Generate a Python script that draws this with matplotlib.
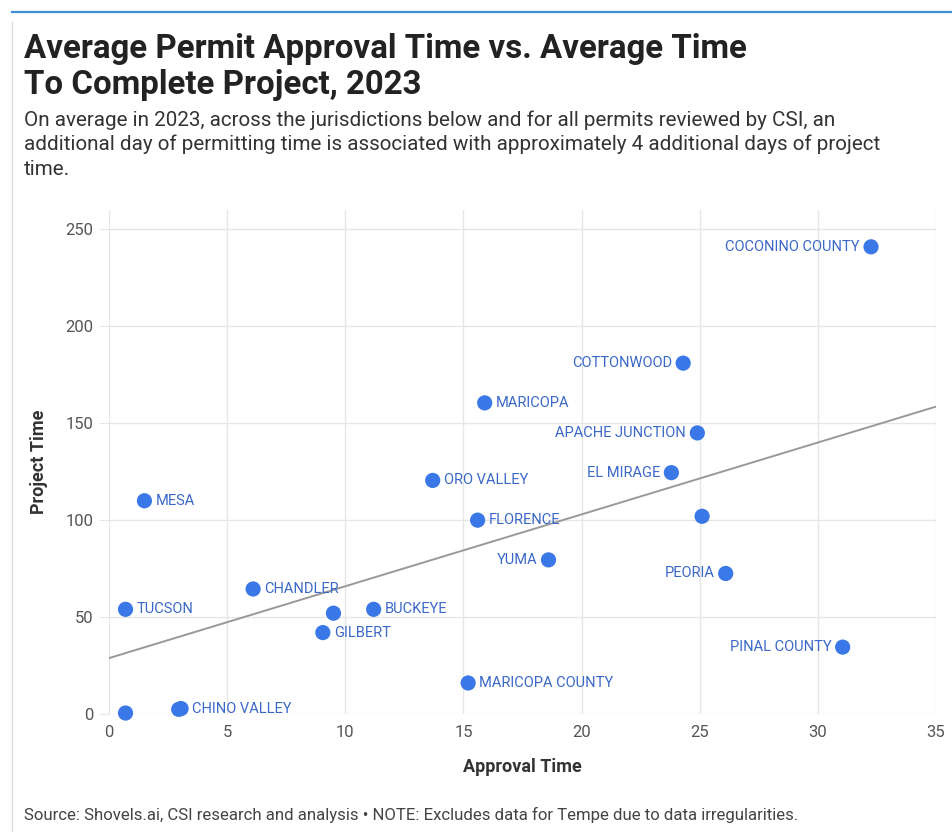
import numpy as np
import matplotlib.pyplot as plt
from matplotlib.lines import Line2D

plt.rcParams['font.family'] = ['Roboto', 'DejaVu Sans']

# data
names = ['COCONINO COUNTY', 'COTTONWOOD', 'MARICOPA', 'APACHE JUNCTION', 'EL MIRAGE',
         'ORO VALLEY', 'MESA', 'FLORENCE', '', 'YUMA', 'PEORIA', 'CHANDLER', 'TUCSON',
         '', 'BUCKEYE', 'GILBERT', 'PINAL COUNTY', 'MARICOPA COUNTY', 'CHINO VALLEY', '', '']
approval = [32.25, 24.3, 15.9, 24.9, 23.8, 13.7, 1.5, 15.6, 25.1, 18.6, 26.1, 6.1, 0.7,
            9.5, 11.2, 9.05, 31.05, 15.2, 3.05, 2.95, 0.7]
project = [241, 181, 160.5, 145, 124.5, 120.5, 110, 100, 102, 79.5, 72.5, 64.5, 54,
           52, 54, 42, 34.5, 16, 2.8, 2.4, 0.5]
label_left = ['COCONINO COUNTY', 'COTTONWOOD', 'APACHE JUNCTION', 'EL MIRAGE', 'YUMA',
              'PEORIA', 'PINAL COUNTY']

x_ticks = [0, 5, 10, 15, 20, 25, 30, 35]
y_ticks = [0, 50, 100, 150, 200, 250]

W, H = 953, 832
fig = plt.figure(figsize=(W / 100, H / 100), dpi=100)
ax = fig.add_axes([109 / W, 1 - 714 / H, (936 - 109) / W, (714 - 210) / H])

grid_c = '#e6e6e6'
ax.set_xlim(0, 35)
ax.set_ylim(0, 260)
ax.set_xticks(x_ticks)
ax.set_yticks(y_ticks)
ax.grid(True, color=grid_c, lw=1)
ax.set_axisbelow(True)
for s in ax.spines.values():
    s.set_visible(False)
ax.tick_params(axis='y', length=7, color=grid_c, labelsize=12, labelcolor='#555555', pad=4)
ax.tick_params(axis='x', length=0, labelsize=12, labelcolor='#555555', pad=8)

# trend line (least squares over all points)
m, b = np.polyfit(approval, project, 1)
xs = np.array([0, 35])
ax.plot(xs, m * xs + b, color='#999999', lw=1.4, zorder=2)

ax.scatter(approval, project, s=120, color='#3b78e7', edgecolors='none', zorder=3, clip_on=False)

for n, xv, yv in zip(names, approval, project):
    if not n:
        continue
    if n in label_left:
        ax.annotate(n, (xv, yv), xytext=(-8, 0), textcoords='offset points',
                    ha='right', va='center', fontsize=10.5, color='#3a68c8', zorder=4)
    else:
        ax.annotate(n, (xv, yv), xytext=(8, 0), textcoords='offset points',
                    ha='left', va='center', fontsize=10.5, color='#3a68c8', zorder=4)

ax.set_xlabel('Approval Time', fontsize=13, fontweight='bold', color='#333333', labelpad=13)
ax.set_ylabel('Project Time', fontsize=13, fontweight='bold', color='#333333', labelpad=13)

# titles and notes
fig.text(24 / W, 1 - 58 / H, 'Average Permit Approval Time vs. Average Time',
         fontsize=23.8, fontweight='bold', color='#222222', va='baseline')
fig.text(24 / W, 1 - 94 / H, 'To Complete Project, 2023',
         fontsize=23.8, fontweight='bold', color='#222222', va='baseline')
sub = ['On average in 2023, across the jurisdictions below and for all permits reviewed by CSI, an',
       'additional day of permitting time is associated with approximately 4 additional days of project',
       'time.']
for i, line in enumerate(sub):
    fig.text(24 / W, 1 - (126 + 24.5 * i) / H, line, fontsize=14.9, color='#333333', va='baseline')
fig.text(24 / W, 1 - 820 / H,
         'Source: Shovels.ai, CSI research and analysis \u2022 NOTE: Excludes data for Tempe due to data irregularities.',
         fontsize=12.1, color='#444444', va='baseline')

# frame lines
fig.add_artist(Line2D([12 / W, 1], [1 - 12 / H, 1 - 12 / H], color='#3d8fd6', lw=1.6))
fig.add_artist(Line2D([12 / W, 12 / W], [0, 1 - 22 / H], color='#dddddd', lw=1))

fig.savefig('out.png', dpi=100)
